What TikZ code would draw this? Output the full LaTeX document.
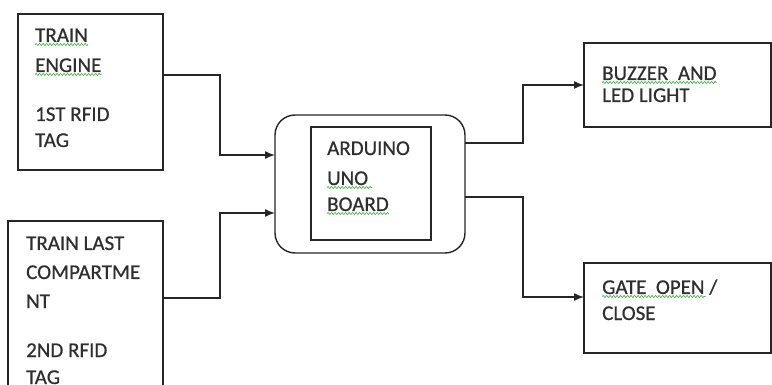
\documentclass[tikz,border=0pt]{standalone}
\usepackage{fontspec}
\setmainfont[FakeBold=0.6]{Carlito}
\usetikzlibrary{arrows.meta,decorations.pathmorphing}
\definecolor{ln}{HTML}{262626}
\definecolor{tx}{HTML}{2E2E2E}
\definecolor{sq}{HTML}{4CAF50}
\begin{document}
\begin{tikzpicture}[x=1pt,y=-1pt,
  box/.style={draw=ln,line width=1.4pt,rectangle,anchor=north west,inner sep=0pt,outer sep=0pt},
  lbl/.style={anchor=base west,inner sep=0pt,text=tx,font=\fontsize{21}{25}\selectfont},
  arr/.style={draw=ln,line width=1.4pt,-{Latex[length=10pt,width=8pt]}},
  squig/.style={draw=sq,line width=0.7pt,decorate,decoration={snake,amplitude=1pt,segment length=3.5pt}}]
\useasboundingbox (0,0) rectangle (772,385);
% boxes
\node[box,minimum width=145pt,minimum height=156pt] (b1) at (18,14) {};
\node[box,minimum width=155pt,minimum height=185pt] (b2) at (8,221) {};
\node[box,minimum width=190pt,minimum height=138pt,rounded corners=20pt] (ard) at (275,115) {};
\node[box,minimum width=120pt,minimum height=113pt] (ardin) at (311,127) {};
\node[box,minimum width=187pt,minimum height=84pt] (buz) at (584,43) {};
\node[box,minimum width=187pt,minimum height=90pt] (gate) at (584,263) {};
% texts box 1
\node[lbl] (t1a) at (35,42) {TRAIN};
\node[lbl] (t1b) at (35,72) {ENGINE};
\node[lbl] (t1c) at (35,121) {1ST RFID};
\node[lbl] (t1d) at (35,147) {TAG};
% texts box 2
\node[lbl] (t2a) at (26,250) {TRAIN LAST};
\node[lbl] (t2b) at (26,279) {COMPARTME};
\node[lbl] (t2c) at (26,308) {NT};
\node[lbl] (t2d) at (26,357) {2ND RFID};
\node[lbl] (t2e) at (26,384) {TAG};
% arduino
\node[lbl] (ta) at (327,155) {ARDUINO};
\node[lbl] (tb) at (327,185) {UNO};
\node[lbl] (tc) at (327,211) {BOARD};
% outputs
\node[lbl] (tz1) at (602,80) {BUZZER\ \ AND};
\node[lbl] (tz2) at (602,102) {LED LIGHT};
\node[lbl] (tg1) at (602,294) {GATE\ \ OPEN /};
\node[lbl] (tg2) at (602,320) {CLOSE};
% spell-check squiggles
\draw[squig] ([yshift=-2.5pt]t1a.base west) -- ([yshift=-2.5pt]t1a.base east);
\draw[squig] ([yshift=-2.5pt]t1b.base west) -- ([yshift=-2.5pt]t1b.base east);
\draw[squig] ([yshift=-2.5pt]tb.base west) -- ([yshift=-2.5pt,xshift=4pt]tb.base east);
\draw[squig] ([yshift=-2.5pt]tc.base west) -- ([yshift=-2.5pt]tc.base east);
\draw[squig] ([yshift=-2.5pt]tz1.base west) -- ([yshift=-2.5pt]tz1.base east);
\draw[squig] ([yshift=-2.5pt]tg1.base west) -- ([yshift=-2.5pt,xshift=-12pt]tg1.base east);
% connectors
\draw[arr] ([yshift=-61pt]b1.north east) -- ++(57,0) |- ([yshift=29pt]ard.west);
\draw[arr] ([yshift=-77pt]b2.north east) -- ++(57,0) |- ([yshift=-29pt]ard.west);
\draw[arr] ([yshift=41pt]ard.east) -- ++(58,0) |- (buz.west);
\draw[arr] ([yshift=-13pt]ard.east) -- ++(58,0) |- ([yshift=11pt]gate.west);
\end{tikzpicture}
\end{document}
